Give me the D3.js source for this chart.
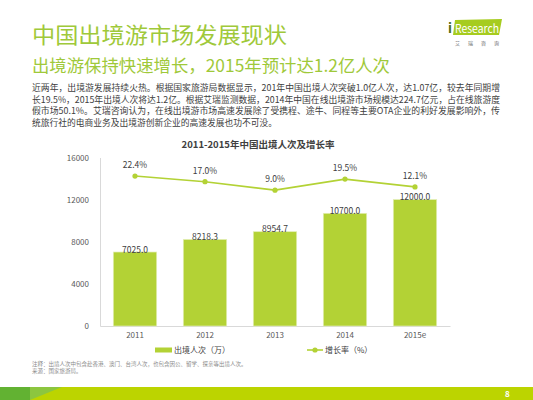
<!DOCTYPE html>
<html>
<head>
<meta charset="utf-8">
<script src="https://cdn.jsdelivr.net/npm/d3@7"></script>
<style>
  html, body { margin: 0; padding: 0; background: #fff; }
  svg { display: block; }
  text { font-family: "Noto Sans CJK SC", "Noto Sans", sans-serif; }
</style>
</head>
<body>
<div class="chart"></div>
<script>
// chart data
const years = ["2011", "2012", "2013", "2014", "2015e"];
const travellers = [7025.0, 8218.3, 8954.7, 10700.0, 12000.0];   // 万人次
const growth = [22.4, 17.0, 9.0, 19.5, 12.1];                     // %
const yTicks = [0, 4000, 8000, 12000, 16000];

const bodyLines = [
  "近两年，出境游发展持续火热。根据国家旅游局数据显示，201年中国出境人次突破1.0亿人次，达1.07亿，较去年同期增",
  "长19.5%，2015年出境人次将达1.2亿。根据艾瑞监测数据，2014年中国在线出境游市场规模达224.7亿元，占在线旅游度",
  "假市场50.1%。艾瑞咨询认为，在线出境游市场高速发展除了受携程、途牛、同程等主要OTA企业的利好发展影响外，传",
  "统旅行社的电商业务及出境游创新企业的高速发展也功不可没。"
];

const W = 533, H = 400;
const green = "#b3d235";

const svg = d3.select(".chart").append("svg")
  .attr("width", W)
  .attr("height", H);

// headings
svg.append("text")
  .attr("x", 32).attr("y", 43)
  .attr("font-size", 22)
  .attr("fill", "#9fc93a")
  .attr("textLength", 255).attr("lengthAdjust", "spacingAndGlyphs")
  .text("中国出境游市场发展现状");

svg.append("text")
  .attr("x", 32).attr("y", 72)
  .attr("font-size", 17)
  .attr("fill", "#9fc93a")
  .attr("textLength", 358).attr("lengthAdjust", "spacingAndGlyphs")
  .text("出境游保持快速增长，2015年预计达1.2亿人次");

bodyLines.forEach((line, i) => {
  svg.append("text")
    .attr("x", 32).attr("y", 91 + i * 11.5)
    .attr("font-size", 8.6)
    .attr("fill", "#404040")
    .attr("textLength", i < 3 ? 468 : 245).attr("lengthAdjust", "spacingAndGlyphs")
    .text(line);
});

// logo
const logo = svg.append("g");
logo.append("path")
  .attr("d", "M455,20 L502,19 L499,35 L453,35 Z")
  .attr("fill", "#a6cc1f");
logo.append("text")
  .attr("x", 448).attr("y", 33)
  .attr("font-size", 13).attr("font-weight", "bold")
  .attr("font-family", "Liberation Sans, sans-serif")
  .attr("fill", "#4d6b1a")
  .text("i");
logo.append("text")
  .attr("x", 455).attr("y", 32.5)
  .attr("font-size", 11.5)
  .attr("font-family", "Liberation Sans, sans-serif")
  .attr("fill", "#fff")
  .attr("textLength", 44).attr("lengthAdjust", "spacingAndGlyphs")
  .text("Research");
logo.append("text")
  .attr("x", 455).attr("y", 45)
  .attr("font-size", 5)
  .attr("fill", "#666")
  .attr("textLength", 44).attr("lengthAdjust", "spacing")
  .text("艾瑞咨询");

// chart area
const x = d3.scaleBand()
  .domain(years)
  .range([100, 450])
  .paddingInner(0.38)
  .paddingOuter(0.19);

const y = d3.scaleLinear()
  .domain([0, 16000])
  .range([326, 157.5]);

// hidden secondary axis for the growth line
const y2 = d3.scaleLinear()
  .domain([-120, 40])
  .range([326, 157.5]);

svg.append("text")
  .attr("x", 258).attr("y", 147.5)
  .attr("text-anchor", "middle")
  .attr("font-size", 9.5).attr("font-weight", "bold")
  .attr("fill", "#404040")
  .text("2011-2015年中国出境人次及增长率");

const yAxis = svg.append("g")
  .attr("transform", "translate(100,0)")
  .call(d3.axisLeft(y).tickValues(yTicks).tickSize(0).tickPadding(11).tickFormat(d3.format("d")));
yAxis.select(".domain").attr("stroke", "#d9d9d9");
yAxis.selectAll("text")
  .attr("font-family", "Noto Sans, sans-serif")
  .attr("font-size", 8).attr("fill", "#595959");

const xAxis = svg.append("g")
  .attr("transform", "translate(0,326)")
  .call(d3.axisBottom(x).tickSize(0).tickPadding(6));
xAxis.select(".domain").attr("stroke", "#d9d9d9");
xAxis.selectAll("text")
  .attr("font-family", "Noto Sans, sans-serif")
  .attr("font-size", 8).attr("fill", "#595959");

// bars
svg.selectAll(".bar")
  .data(travellers)
  .enter().append("rect")
  .attr("class", "bar")
  .attr("x", (d, i) => x(years[i]))
  .attr("width", x.bandwidth())
  .attr("y", d => y(d))
  .attr("height", d => y(0) - y(d))
  .attr("fill", green)
  .attr("stroke", "#e3eeb6")
  .attr("stroke-width", 0.7);

svg.selectAll(".barLabel")
  .data(travellers)
  .enter().append("text")
  .attr("class", "barLabel")
  .attr("x", (d, i) => x(years[i]) + x.bandwidth() / 2)
  .attr("y", d => y(d) + 0.5)
  .attr("text-anchor", "middle")
  .attr("font-family", "Noto Sans, sans-serif")
  .attr("font-size", 8.5).attr("fill", "#404040")
  .text(d => d.toFixed(1));

// growth line
const line = d3.line()
  .x((d, i) => x(years[i]) + x.bandwidth() / 2)
  .y(d => y2(d));

svg.append("path")
  .datum(growth)
  .attr("d", line)
  .attr("fill", "none")
  .attr("stroke", green)
  .attr("stroke-width", 1.6);

svg.selectAll(".dot")
  .data(growth)
  .enter().append("circle")
  .attr("class", "dot")
  .attr("cx", (d, i) => x(years[i]) + x.bandwidth() / 2)
  .attr("cy", d => y2(d))
  .attr("r", 2.6)
  .attr("fill", green);

svg.selectAll(".rateLabel")
  .data(growth)
  .enter().append("text")
  .attr("class", "rateLabel")
  .attr("x", (d, i) => x(years[i]) + x.bandwidth() / 2)
  .attr("y", d => y2(d) - 8)
  .attr("text-anchor", "middle")
  .attr("font-family", "Noto Sans, sans-serif")
  .attr("font-size", 8.5).attr("fill", "#404040")
  .text(d => d.toFixed(1) + "%");

// legend
const legend = svg.append("g");
legend.append("rect")
  .attr("x", 155).attr("y", 347.5).attr("width", 17).attr("height", 5)
  .attr("fill", green);
legend.append("text")
  .attr("x", 174).attr("y", 353)
  .attr("font-size", 8).attr("fill", "#404040")
  .text("出境人次（万）");
legend.append("line")
  .attr("x1", 307).attr("x2", 323).attr("y1", 350).attr("y2", 350)
  .attr("stroke", green).attr("stroke-width", 1.6);
legend.append("circle")
  .attr("cx", 315).attr("cy", 350).attr("r", 2.6)
  .attr("fill", green);
legend.append("text")
  .attr("x", 325).attr("y", 353)
  .attr("font-size", 8).attr("fill", "#404040")
  .text("增长率（%）");

// notes
svg.append("text")
  .attr("x", 32).attr("y", 366)
  .attr("font-size", 5.5).attr("fill", "#8c8c8c")
  .text("注释：出境人次中包含赴香港、澳门、台湾人次，也包含因公、留学、探亲等出境人次。");
svg.append("text")
  .attr("x", 32).attr("y", 373)
  .attr("font-size", 5.5).attr("fill", "#8c8c8c")
  .text("来源：国家旅游局。");

// footer band
svg.append("rect")
  .attr("x", 0).attr("y", 387).attr("width", W).attr("height", 13)
  .attr("fill", "#bcd400");
svg.append("path")
  .attr("d", "M0,387 L62,387 L30,400 L0,400 Z")
  .attr("fill", "#8cc63f");
svg.append("path")
  .attr("d", "M0,387 L30,387 L30,400 L0,400 Z")
  .attr("fill", "#62b232");
svg.append("text")
  .attr("x", 505).attr("y", 397)
  .attr("font-family", "Noto Sans, sans-serif")
  .attr("font-size", 8).attr("font-weight", "bold")
  .attr("fill", "#fff")
  .text("8");
</script>
</body>
</html>
